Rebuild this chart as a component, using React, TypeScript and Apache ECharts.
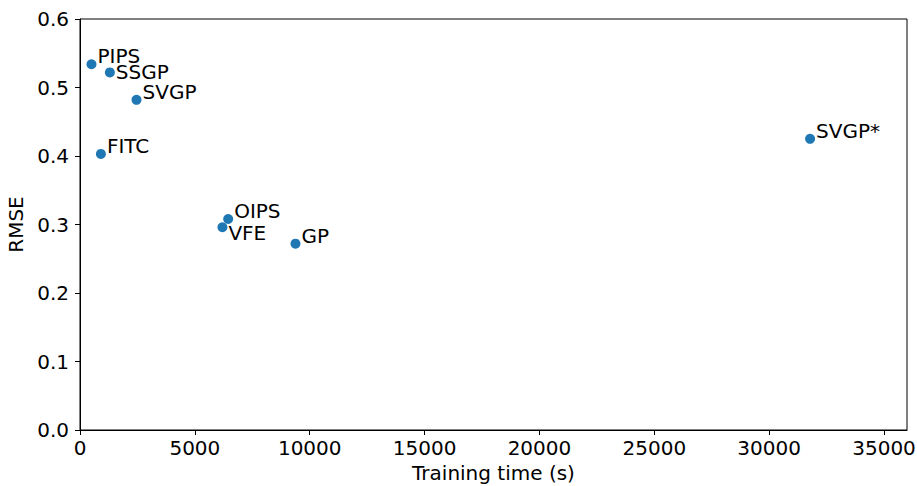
import React, { useEffect, useRef } from "react";
import * as echarts from "echarts";

const methods = ["PIPS", "SSGP", "SVGP", "FITC", "OIPS", "VFE", "GP", "SVGP*"];
const trainingTime = [500, 1300, 2460, 910, 6450, 6200, 9380, 31780];
const rmse = [0.534, 0.522, 0.482, 0.403, 0.308, 0.296, 0.272, 0.425];
const xTicks = [0, 5000, 10000, 15000, 20000, 25000, 30000, 35000];
const yTicks = [0, 0.1, 0.2, 0.3, 0.4, 0.5, 0.6];

const FONT = "DejaVu Sans";
const FS = 20;

const labelOffset = (m: string) => (m === "VFE" ? [0, 6] : m === "SSGP" ? [0, 0] : [0, -8]);

export default function App() {
  const ref = useRef<HTMLDivElement>(null);
  useEffect(() => {
    if (!ref.current) return;
    const chart = echarts.init(ref.current, null, { renderer: "svg" });
    chart.setOption({
      animation: false,
      textStyle: { fontFamily: FONT },
      grid: {
        left: 80,
        right: 10,
        top: 19,
        bottom: 56,
        containLabel: false,
        outerBoundsMode: "none",
        show: true,
        borderColor: "#000",
        borderWidth: 1,
        backgroundColor: "transparent",
      },
      xAxis: {
        type: "value",
        min: 0,
        max: 36000,
        interval: 5000,
        name: "Training time (s)",
        nameLocation: "middle",
        nameGap: 32,
        nameTextStyle: { fontFamily: FONT, fontSize: FS, color: "#000" },
        splitLine: { show: false },
        axisLine: { show: true, lineStyle: { color: "#000", width: 1 } },
        axisTick: {
          show: true,
          length: 5,
          lineStyle: { color: "#000" },
          customValues: xTicks,
        },
        axisLabel: {
          fontFamily: FONT,
          fontSize: FS,
          color: "#000",
          margin: 8,
          customValues: xTicks,
          formatter: (v: number) => String(v),
        },
      },
      yAxis: {
        type: "value",
        min: 0,
        max: 0.6,
        interval: 0.1,
        name: "RMSE",
        nameLocation: "middle",
        nameGap: 52,
        nameRotate: 90,
        nameTextStyle: { fontFamily: FONT, fontSize: FS, color: "#000" },
        splitLine: { show: false },
        axisLine: { show: true, lineStyle: { color: "#000", width: 1 } },
        axisTick: {
          show: true,
          length: 5,
          lineStyle: { color: "#000" },
          customValues: yTicks,
        },
        axisLabel: {
          fontFamily: FONT,
          fontSize: FS,
          color: "#000",
          margin: 11,
          customValues: yTicks,
          formatter: (v: number) => v.toFixed(1),
        },
      },
      series: [
        {
          type: "scatter",
          symbol: "circle",
          symbolSize: 10,
          itemStyle: { color: "#1f77b4", opacity: 1 },
          data: methods.map((m, i) => ({
            name: m,
            value: [trainingTime[i], rmse[i]],
            label: { offset: labelOffset(m) },
          })),
          label: {
            show: true,
            position: "right",
            distance: 1,
            formatter: "{b}",
            fontFamily: FONT,
            fontSize: FS,
            color: "#000",
          },
        },
      ],
    });
    return () => chart.dispose();
  }, []);
  return <div ref={ref} style={{ width: 917, height: 486, position: "absolute", left: 0, top: 0 }} />;
}
